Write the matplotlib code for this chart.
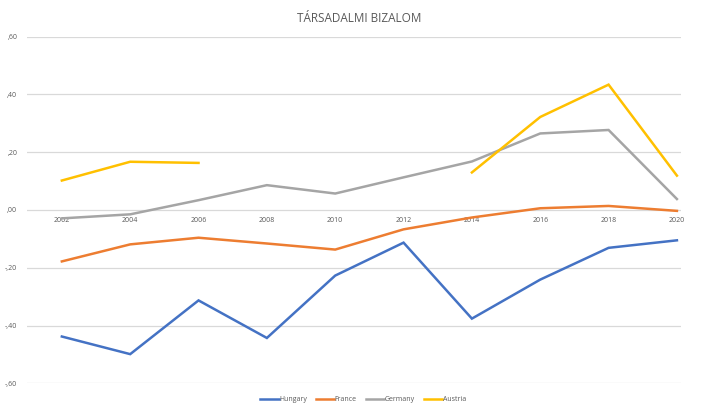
import matplotlib
matplotlib.use("Agg")
import matplotlib.pyplot as plt
import numpy as np

years = ["2002", "2004", "2006", "2008", "2010", "2012", "2014", "2016", "2018", "2020"]
hungary = [-0.438, -0.499, -0.313, -0.443, -0.227, -0.113, -0.376, -0.241, -0.131, -0.105]
france = [-0.178, -0.119, -0.096, -0.116, -0.137, -0.067, -0.026, 0.006, 0.014, -0.003]
germany = [-0.029, -0.015, 0.034, 0.086, 0.057, 0.113, 0.168, 0.265, 0.277, 0.038]
austria = [0.102, 0.167, 0.163, np.nan, np.nan, np.nan, 0.130, 0.322, 0.434, 0.119]
yticks = [-0.6, -0.4, -0.2, 0.0, 0.2, 0.4, 0.6]
ytick_labels = ["-,60", "-,40", "-,20", ",00", ",20", ",40", ",60"]
title = "TÁRSADALMI BIZALOM"

plt.rcParams['font.family'] = ['Open Sans', 'DejaVu Sans']

fig = plt.figure(figsize=(7.01, 4.04), dpi=100)
ax = fig.add_axes([0.0385, 0.0512, 0.933, 0.858])

x = np.arange(len(years))
series = [("Hungary", hungary, "#4472C4"), ("France", france, "#ED7D31"),
          ("Germany", germany, "#A5A5A5"), ("Austria", austria, "#FFC000")]
for name, vals, col in series:
    ax.plot(x, vals, color=col, lw=1.8, label=name, solid_joinstyle='miter')

ax.set_ylim(-0.6, 0.6)
ax.set_xlim(-0.51, 9.06)
ax.set_yticks(yticks)
ax.set_yticklabels(ytick_labels)
ax.yaxis.grid(True, color="#D9D9D9", lw=0.9)
ax.set_axisbelow(True)
ax.set_xticks(x)
ax.set_xticklabels(years)
for s in ["top", "right", "left"]:
    ax.spines[s].set_visible(False)
ax.spines["bottom"].set_position(("data", 0))
ax.spines["bottom"].set_visible(False)
ax.tick_params(axis="both", length=0, labelsize=5, labelcolor="#595959")
ax.tick_params(axis="x", pad=5)
ax.tick_params(axis="y", pad=7)

fig.text(0.513, 0.955, title, ha="center", va="center", fontsize=8.5, color="#595959")

fig.legend(loc="center", bbox_to_anchor=(0.518, 0.01), ncol=4, frameon=False,
           fontsize=5, handlelength=2.6, handletextpad=0.1, columnspacing=1.3,
           labelcolor="#595959", borderpad=0.1)

fig.savefig("out.png", dpi=100)
